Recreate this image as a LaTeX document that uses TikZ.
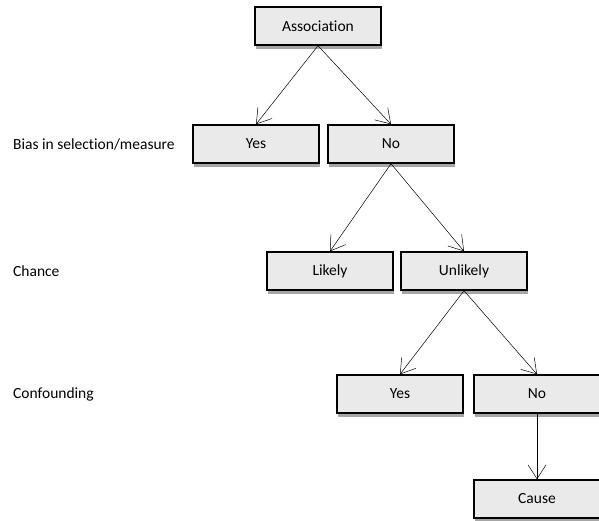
\documentclass[tikz,border=0pt]{standalone}
\usepackage{fontspec}
\setmainfont[Ligatures={NoCommon}]{Carlito}
\usetikzlibrary{arrows.meta,shadows}
\definecolor{boxfill}{HTML}{EAEAEA}
\definecolor{shadowgray}{HTML}{A6A6A6}
\tikzset{
  dbox/.style={draw=black, line width=1.4pt, fill=boxfill, minimum width=126pt, minimum height=38pt,
    inner sep=0pt, font=\fontsize{15.5}{18}\selectfont,
    drop shadow={shadow xshift=1pt, shadow yshift=-4pt, fill=shadowgray, opacity=1}},
  lbl/.style={anchor=west, font=\fontsize{15.5}{18}\selectfont, inner sep=0pt},
  conn/.style={draw=black, line width=0.5pt, -{Straight Barb[length=14pt, width=18pt, line width=0.5pt]}}
}
\begin{document}
\begin{tikzpicture}[x=1pt,y=-1pt]
\useasboundingbox (0,0) rectangle (599,520);
\node[dbox] (assoc) at (318,26) {Association};
\node[dbox] (yes1) at (256,144) {Yes};
\node[dbox] (no1) at (391,144) {No};
\node[dbox] (likely) at (330,271) {Likely};
\node[dbox] (unlikely) at (464,271) {Unlikely};
\node[dbox] (yes2) at (400,394) {Yes};
\node[dbox] (no2) at (537,394) {No};
\node[dbox] (cause) at (537,499) {Cause};
\node[lbl] (l1) at (13,144) {Bias in selection/measure};
\node[lbl] (l2) at (13,271) {Chance};
\node[lbl] (l3) at (13,394) {Confounding};
\draw[conn] (assoc.south) -- (yes1.north);
\draw[conn] (assoc.south) -- (no1.north);
\draw[conn] (no1.south) -- (likely.north);
\draw[conn] (no1.south) -- (unlikely.north);
\draw[conn] (unlikely.south) -- (yes2.north);
\draw[conn] (unlikely.south) -- (no2.north);
\draw[conn] (no2.south) -- (cause.north);
\end{tikzpicture}
\end{document}
